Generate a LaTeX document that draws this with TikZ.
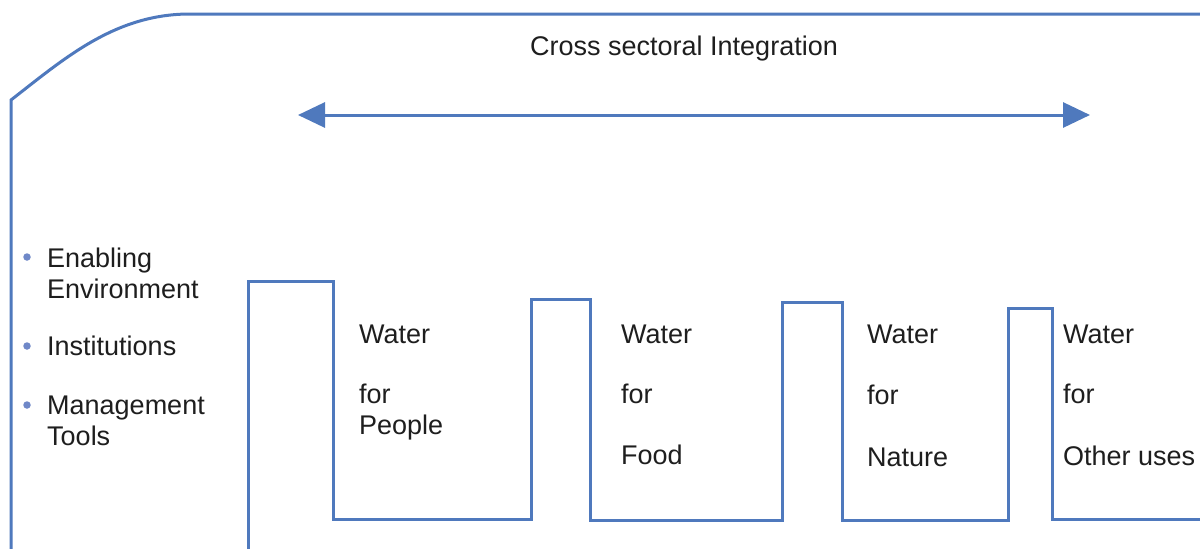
\documentclass[tikz,border=0pt]{standalone}
\usepackage{fontspec}
\setmainfont{Liberation Sans}
\usetikzlibrary{arrows.meta}
\definecolor{lineblue}{HTML}{4F79BD}
\definecolor{dotblue}{HTML}{6F88C8}
\definecolor{ink}{HTML}{1E1E1E}
\begin{document}
\begin{tikzpicture}[x=1pt,y=-1pt,
  blueline/.style={draw=lineblue,line width=3pt,line join=miter},
  label/.style={anchor=base west,inner sep=0pt,text=ink,font=\fontsize{27}{31}\selectfont},
  bulletdot/.style={circle,fill=dotblue,inner sep=0pt,minimum size=7.5pt}]
\useasboundingbox (0,0) rectangle (1200,549);
\fill[white] (0,0) rectangle (1200,549);

% outer frame with the rounded corner
\coordinate (frameBottom) at (11,552);
\coordinate (frameRight) at (1203,14);
\draw[blueline] (frameBottom) -- (11,100)
  .. controls (65,58) and (115,14) .. (190,14) -- (frameRight);

% title and double-headed arrow
\node[label] (title) at (530,55) {Cross sectoral Integration};
\coordinate (arrL) at (298,115);
\coordinate (arrR) at (1090,115);
\draw[blueline,{Triangle[length=27pt,width=25pt]}-{Triangle[length=27pt,width=25pt]}] (arrL) -- (arrR);

% comb of water sectors
\coordinate (combStart) at (248,552);
\coordinate (combEnd) at (1203,519);
\draw[blueline] (combStart) -- (248,281) -- (333,281) -- (333,519)
  -- (531,519) -- (531,299) -- (590,299) -- (590,520)
  -- (782,520) -- (782,302) -- (842,302) -- (842,520)
  -- (1008,520) -- (1008,308) -- (1052,308) -- (1052,519) -- (combEnd);

% bullet list on the left
\node[bulletdot] (b1) at (27,257) {};
\node[label] (t1a) at (47,267) {Enabling};
\node[label] (t1b) at (47,298) {Environment};
\node[bulletdot] (b2) at (27,346) {};
\node[label] (t2) at (47,355) {Institutions};
\node[bulletdot] (b3) at (27,405) {};
\node[label] (t3a) at (47,414) {Management};
\node[label] (t3b) at (47,445) {Tools};

% sector labels
\node[label] (p1) at (359,343) {Water};
\node[label] (p2) at (359,403) {for};
\node[label] (p3) at (359,434) {People};

\node[label] (f1) at (621,343) {Water};
\node[label] (f2) at (621,403) {for};
\node[label] (f3) at (621,464) {Food};

\node[label] (n1) at (867,343) {Water};
\node[label] (n2) at (867,404) {for};
\node[label] (n3) at (867,466) {Nature};

\node[label] (o1) at (1063,343) {Water};
\node[label] (o2) at (1063,403) {for};
\node[label] (o3) at (1063,465) {Other uses};
\end{tikzpicture}
\end{document}
